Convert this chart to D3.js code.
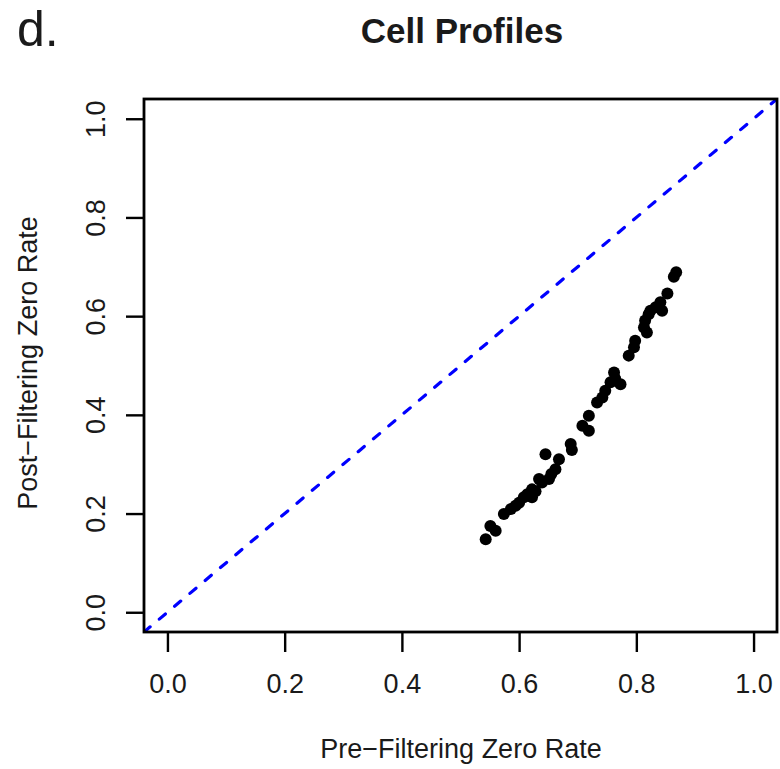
<!DOCTYPE html>
<html>
<head>
<meta charset="utf-8">
<script src="https://cdn.jsdelivr.net/npm/d3@7"></script>
<style>
  body { margin: 0; background: #fff; }
  text { font-family: "Liberation Sans", Arial, sans-serif; fill: #1a1a1a; }
</style>
</head>
<body>
<div id="chart"></div>
<script>
// --- data ---
const preZero = [0.868, 0.864, 0.853, 0.841, 0.833, 0.824, 0.844, 0.821, 0.815, 0.813,
  0.818, 0.798, 0.796, 0.787, 0.762, 0.764, 0.773, 0.756, 0.747, 0.742,
  0.733, 0.719, 0.708, 0.719, 0.688, 0.690, 0.645, 0.668, 0.662, 0.651,
  0.634, 0.639, 0.622, 0.614, 0.608, 0.622, 0.594, 0.586, 0.574, 0.551,
  0.560, 0.543, 0.655, 0.628, 0.600];
const postZero = [0.689, 0.680, 0.646, 0.628, 0.618, 0.611, 0.611, 0.604, 0.591, 0.577,
  0.567, 0.550, 0.537, 0.520, 0.486, 0.473, 0.462, 0.466, 0.449, 0.435,
  0.425, 0.398, 0.378, 0.368, 0.341, 0.329, 0.320, 0.310, 0.290, 0.270,
  0.270, 0.263, 0.249, 0.239, 0.233, 0.233, 0.216, 0.209, 0.199, 0.175,
  0.165, 0.148, 0.280, 0.245, 0.222];
const ticks = [0, 0.2, 0.4, 0.6, 0.8, 1.0];

const W = 780, H = 769;
const box = { left: 144, right: 777, top: 99, bottom: 632 };

const svg = d3.select("#chart").append("svg")
  .attr("width", W).attr("height", H);

const x = d3.scaleLinear().domain([-0.04, 1.04]).range([box.left, box.right]);
const y = d3.scaleLinear().domain([-0.04, 1.04]).range([box.bottom, box.top]);

// panel label + title
svg.append("text").attr("x", 17).attr("y", 46)
  .attr("font-size", 50).attr("fill", "#000").text("d.");
svg.append("text").attr("x", 462).attr("y", 43)
  .attr("text-anchor", "middle").attr("font-size", 35).attr("font-weight", "bold")
  .attr("fill", "#000")
  .text("Cell Profiles");

// identity line, clipped to the box
svg.append("clipPath").attr("id", "clip").append("rect")
  .attr("x", box.left).attr("y", box.top)
  .attr("width", box.right - box.left).attr("height", box.bottom - box.top);

svg.append("line")
  .attr("clip-path", "url(#clip)")
  .attr("x1", x(-0.04)).attr("y1", y(-0.04))
  .attr("x2", x(1.04)).attr("y2", y(1.04))
  .attr("stroke", "#0000ff").attr("stroke-width", 3.2)
  .attr("stroke-linecap", "round")
  .attr("stroke-dasharray", "8,12");

// points
svg.append("g").selectAll("circle")
  .data(preZero.map((v, i) => [v, postZero[i]]))
  .join("circle")
  .attr("cx", d => x(d[0])).attr("cy", d => y(d[1]))
  .attr("r", 6).attr("fill", "#000");

// box
svg.append("rect")
  .attr("x", box.left).attr("y", box.top)
  .attr("width", box.right - box.left).attr("height", box.bottom - box.top)
  .attr("fill", "none").attr("stroke", "#000").attr("stroke-width", 2.8);

// axes
const xAxis = svg.append("g")
  .attr("transform", `translate(0,${box.bottom})`)
  .call(d3.axisBottom(x).tickValues(ticks).tickFormat(d3.format(".1f")).tickSize(20));
xAxis.select(".domain").remove();
xAxis.selectAll("line").attr("stroke", "#000").attr("stroke-width", 2.4);
xAxis.selectAll("text")
  .attr("y", 61).attr("dy", null)
  .attr("font-size", 27).attr("fill", "#1a1a1a")
  .style("font-family", "Liberation Sans, Arial, sans-serif");

const yAxis = svg.append("g")
  .attr("transform", `translate(${box.left},0)`)
  .call(d3.axisLeft(y).tickValues(ticks).tickFormat(d3.format(".1f")).tickSize(18));
yAxis.select(".domain").remove();
yAxis.selectAll("line").attr("stroke", "#000").attr("stroke-width", 2.4);
yAxis.selectAll("text")
  .attr("font-size", 27).attr("fill", "#1a1a1a")
  .style("font-family", "Liberation Sans, Arial, sans-serif")
  .attr("x", null).attr("dy", null)
  .attr("text-anchor", "middle")
  .attr("transform", "translate(-39,0) rotate(-90)");

// axis titles
svg.append("text").attr("x", 461).attr("y", 758)
  .attr("text-anchor", "middle").attr("font-size", 27)
  .text("Pre\u2212Filtering Zero Rate");
svg.append("text")
  .attr("transform", `translate(37,363) rotate(-90)`)
  .attr("text-anchor", "middle").attr("font-size", 27)
  .text("Post\u2212Filtering Zero Rate");
</script>
</body>
</html>
